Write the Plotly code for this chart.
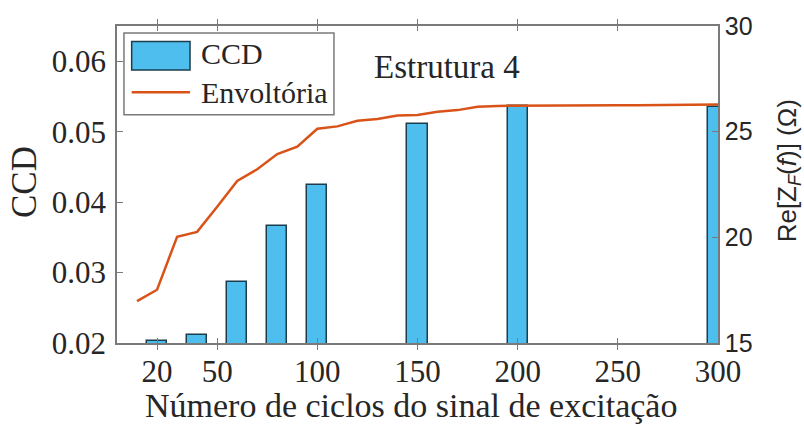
import plotly.graph_objects as go

# Bar data: CCD per number of excitation cycles
ciclos = [20, 40, 60, 80, 100, 150, 200, 300]
ccd = [0.0203, 0.0212, 0.0287, 0.0366, 0.0425, 0.0511, 0.0536, 0.0535]

# Envelope of Re[Z_F(f)] (ohms)
ciclos_env = [10, 20, 30, 40, 50, 60, 70, 80, 90, 100,
              110, 120, 130, 140, 150, 160, 170, 180, 190, 200,
              210, 220, 230, 240, 250, 260, 270, 280, 290, 300]
envoltoria = [16.98, 17.52, 20.03, 20.26, 21.45, 22.67, 23.22, 23.94, 24.29, 25.14,
              25.25, 25.52, 25.60, 25.76, 25.79, 25.94, 26.02, 26.18, 26.22, 26.23,
              26.23, 26.23, 26.24, 26.24, 26.25, 26.25, 26.26, 26.26, 26.27, 26.28]

x_ticks = [20, 50, 100, 150, 200, 250, 300]
y_ticks = [0.02, 0.03, 0.04, 0.05, 0.06]
y2_ticks = [15, 20, 25, 30]

BAR_FILL = "#4DBEEE"
BAR_EDGE = "#1d3c4c"
LINE_COLOR = "#D95319"
AXIS_COLOR = "#7a7a7a"
TEXT_COLOR = "#262626"
SERIF = "Liberation Serif"
SANS = "Liberation Sans"

fig = go.Figure()
fig.add_trace(go.Bar(
    x=ciclos, y=ccd, width=10, name="CCD",
    marker=dict(color=BAR_FILL, line=dict(color=BAR_EDGE, width=1.5)),
    showlegend=False,
))
fig.add_trace(go.Scatter(
    x=ciclos_env, y=envoltoria, yaxis="y2", mode="lines", name="Envoltória",
    line=dict(color=LINE_COLOR, width=2.5), showlegend=False,
))

fig.update_layout(
    width=804, height=430,
    margin=dict(l=117, r=86, t=18, b=87),
    paper_bgcolor="white", plot_bgcolor="white",
    bargap=0,
    xaxis=dict(
        range=[0, 300], tickvals=x_ticks,
        ticks="inside", ticklen=5, tickcolor=AXIS_COLOR,
        showline=True, linecolor=AXIS_COLOR, linewidth=1.5, mirror="allticks",
        showgrid=False, zeroline=False,
        tickfont=dict(family=SERIF, size=31, color=TEXT_COLOR),
    ),
    yaxis=dict(
        range=[0.02, 0.065], tickvals=y_ticks, tickformat=".2f",
        ticks="inside", ticklen=6, tickcolor=AXIS_COLOR,
        showline=True, linecolor=AXIS_COLOR, linewidth=1.5,
        showgrid=False, zeroline=False, ticklabelstandoff=3,
        tickfont=dict(family=SERIF, size=31, color=TEXT_COLOR),
    ),
    yaxis2=dict(
        overlaying="y", side="right",
        range=[15, 30], tickvals=y2_ticks,
        ticks="inside", ticklen=6, tickcolor=AXIS_COLOR,
        showline=True, linecolor=AXIS_COLOR, linewidth=1.5,
        showgrid=False, zeroline=False,
        tickfont=dict(family=SANS, size=25, color=TEXT_COLOR),
    ),
)

# Axis titles
fig.add_annotation(xref="paper", yref="paper", x=0.49, y=-0.197, xanchor="center", yanchor="middle",
                   text="Número de ciclos do sinal de excitação", showarrow=False,
                   font=dict(family=SERIF, size=34, color=TEXT_COLOR))
fig.add_annotation(xref="paper", yref="paper", x=-0.153, y=0.508, xanchor="center", yanchor="middle",
                   text="CCD", textangle=-90, showarrow=False,
                   font=dict(family=SERIF, size=35, color=TEXT_COLOR))
fig.add_annotation(xref="paper", yref="paper", x=1.1165, y=0.5415, xanchor="center", yanchor="middle",
                   text="Re[Z<sub><i>F</i></sub>(<i>f</i>)] (Ω)", textangle=-90, showarrow=False,
                   font=dict(family=SANS, size=26, color=TEXT_COLOR))

# Legend box drawn by hand so the samples keep their wide MATLAB-like shape
fig.add_shape(type="rect", xref="paper", yref="paper", x0=0.0116, x1=0.361, y0=0.72, y1=0.978,
              line=dict(color=AXIS_COLOR, width=1.5), fillcolor="white", layer="above")
fig.add_shape(type="rect", xref="paper", yref="paper", x0=0.0244, x1=0.1215, y0=0.8615, y1=0.951,
              line=dict(color=BAR_EDGE, width=1.5), fillcolor=BAR_FILL, layer="above")
fig.add_shape(type="line", xref="paper", yref="paper", x0=0.0244, x1=0.1215, y0=0.791, y1=0.791,
              line=dict(color=LINE_COLOR, width=2.5), layer="above")
fig.add_annotation(xref="paper", yref="paper", x=0.1364, y=0.912, xanchor="left", yanchor="middle",
                   text="CCD", showarrow=False, font=dict(family=SERIF, size=30, color=TEXT_COLOR))
fig.add_annotation(xref="paper", yref="paper", x=0.1364, y=0.79, xanchor="left", yanchor="middle",
                   text="Envoltória", showarrow=False, font=dict(family=SERIF, size=30, color=TEXT_COLOR))

fig.add_annotation(xref="paper", yref="paper", x=0.424, y=0.871, xanchor="left", yanchor="middle",
                   text="Estrutura 4", showarrow=False, font=dict(family=SERIF, size=33, color=TEXT_COLOR))

fig.write_html("out.html")
